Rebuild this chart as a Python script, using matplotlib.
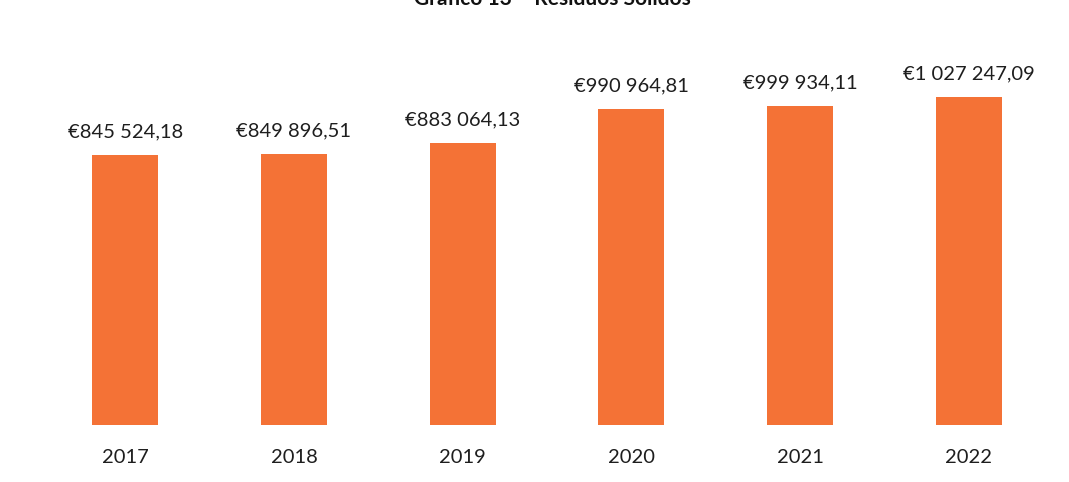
import matplotlib
matplotlib.use("Agg")
import matplotlib.pyplot as plt

years = ["2017", "2018", "2019", "2020", "2021", "2022"]
values = [845524.18, 849896.51, 883064.13, 990964.81, 999934.11, 1027247.09]
title = "Gráfico 13 – Resíduos Sólidos"
bar_color = "#F47236"

def fmt(v):
    s = f"{v:,.2f}"
    s = s.replace(",", " ").replace(".", ",")
    return "€" + s

plt.rcParams['font.family'] = ['Lato', 'DejaVu Sans']

fig = plt.figure(figsize=(10.69, 4.82), dpi=100)
ax = fig.add_axes([41/1069, 57/482, 1012/1069, 383/482])
x = list(range(len(years)))
bars = ax.bar(x, values, width=0.39, color=bar_color)
ax.set_xlim(-0.5, len(years) - 0.5)
ax.set_ylim(0, 1.2e6)
ax.set_xticks(x)
ax.set_xticklabels(years, fontsize=14.5, color="#1e1e1e")
ax.tick_params(axis='x', length=0, pad=17)
ax.set_yticks([])
for s in ax.spines.values():
    s.set_visible(False)

for xi, v in zip(x, values):
    ax.annotate(fmt(v), (xi, v), xytext=(0, 10.5), textcoords='offset points',
                ha='center', va='bottom', fontsize=14.5, color="#1e1e1e")

fig.text(552/1069, 1 - 5/482, title, ha='center', va='baseline',
         fontsize=15, fontweight='bold', color="#111111")

fig.savefig("out.png", dpi=100, facecolor="white")
